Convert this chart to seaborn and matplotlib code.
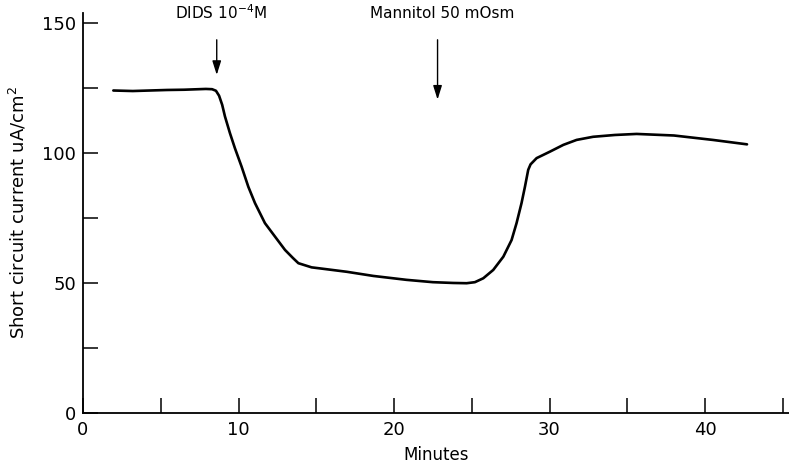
import matplotlib
matplotlib.use("Agg")
import matplotlib.pyplot as plt
import seaborn as sns
import pandas as pd

minutes = [1.95, 3.2, 4.3, 5.4, 6.5, 7.9, 8.3, 8.55, 8.75, 8.95, 9.13, 9.45, 9.77,
           10.2, 10.63, 11.06, 11.7, 12.35, 12.99, 13.5, 13.85, 14.7, 15.24, 16.96,
           18.67, 20.8, 22.5, 23.8, 24.67, 25.2, 25.74, 26.38, 27.03, 27.56, 27.88,
           28.2, 28.42, 28.63, 28.78, 29.17, 30.03, 30.89, 31.74, 32.8, 34.2, 35.6,
           38.0, 40.5, 42.7]
current = [124.0, 123.8, 124.0, 124.2, 124.3, 124.6, 124.5, 123.9, 122.0, 118.5,
           114.0, 107.6, 101.8, 94.7, 87.0, 80.7, 73.0, 67.8, 62.7, 59.6, 57.6, 56.0,
           55.6, 54.3, 52.7, 51.2, 50.3, 50.0, 49.9, 50.3, 51.8, 55.0, 60.1, 66.5,
           73.0, 80.7, 87.0, 93.5, 95.6, 98.0, 100.5, 103.1, 105.0, 106.2, 106.9,
           107.3, 106.7, 105.0, 103.3]

x_ticks = [0, 5, 10, 15, 20, 25, 30, 35, 40, 45]
x_labels = ["0", "", "10", "", "20", "", "30", "", "40", ""]
y_ticks = [0, 25, 50, 75, 100, 125, 150]
y_labels = ["0", "", "50", "", "100", "", "150"]

events = ["DIDS 10$^{-4}$M", "Mannitol 50 mOsm"]
event_x = [8.6, 22.8]
event_tip = [130.0, 120.5]

sns.set_style("ticks")
plt.rcParams["font.family"] = ["DejaVu Sans"]
plt.rcParams["mathtext.fontset"] = "custom"
plt.rcParams["mathtext.rm"] = "DejaVu Sans"
plt.rcParams["mathtext.it"] = "DejaVu Sans"
plt.rcParams["text.color"] = "black"
plt.rcParams["axes.labelcolor"] = "black"

fig = plt.figure(figsize=(7.89, 4.70), dpi=100)
ax = fig.add_axes([83 / 789, 1 - 413 / 470, 1 - 83 / 789, (413 - 13) / 470])

df = pd.DataFrame({"Minutes": minutes, "Current": current})
sns.lineplot(data=df, x="Minutes", y="Current", ax=ax, color="black", linewidth=1.9)

ax.set_xlim(0, 45.4)
ax.set_ylim(0, 153.8)
ax.set_xticks(x_ticks)
ax.set_xticklabels(x_labels)
ax.set_yticks(y_ticks)
ax.set_yticklabels(y_labels)
ax.tick_params(axis="both", direction="in", length=11, width=1.1, labelsize=13, colors="black")
ax.tick_params(axis="x", pad=6)
ax.tick_params(axis="y", pad=5)
for s in ["top", "right"]:
    ax.spines[s].set_visible(False)
for s in ["left", "bottom"]:
    ax.spines[s].set_linewidth(1.3)
    ax.spines[s].set_color("black")

ax.set_xlabel("Minutes", fontsize=12, labelpad=5, color="black")
ax.set_ylabel("Short circuit current uA/cm$^{2}$", fontsize=13, labelpad=10, color="black")

for label, ex, tip in zip(events, event_x, event_tip):
    ax.annotate("", xy=(ex, tip), xytext=(ex, 143.5),
                arrowprops=dict(arrowstyle="-|>,head_length=0.7,head_width=0.22",
                                color="black", lw=1.0, mutation_scale=12,
                                shrinkA=0, shrinkB=0),
                annotation_clip=False)
    ax.text(ex + 0.3, 153.8, label, ha="center", va="center", fontsize=11,
            color="black", clip_on=False)

fig.savefig("out.png", dpi=100)
